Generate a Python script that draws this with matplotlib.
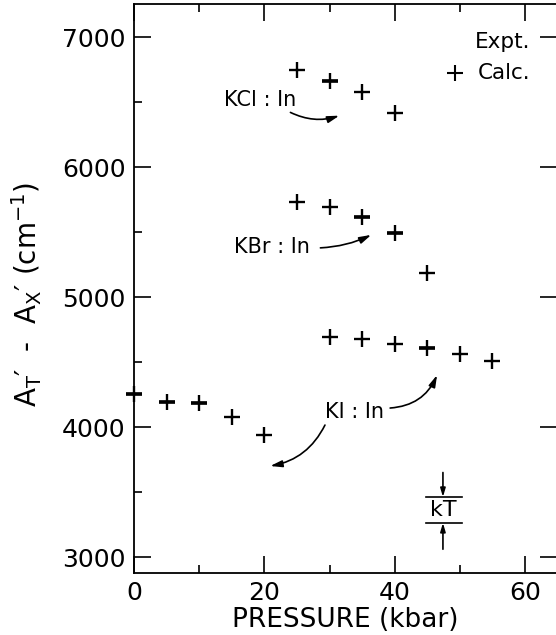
import matplotlib
matplotlib.use("Agg")
import matplotlib.pyplot as plt
from matplotlib.patches import FancyArrowPatch
from matplotlib.ticker import MultipleLocator

# Calculated values (+)
kcl_p = [25, 30, 35, 40]
kcl_v = [6746, 6662, 6580, 6415]
kbr_p = [25, 30, 35, 40, 45]
kbr_v = [5730, 5690, 5615, 5490, 5185]
ki_p = [0, 5, 10, 15, 20, 30, 35, 40, 45, 50, 55]
ki_v = [4255, 4195, 4185, 4080, 3940, 4695, 4680, 4640, 4605, 4560, 4510]

# Experimental values (—), coinciding with calculated points
expt_p = [30, 35, 40, 0, 5, 10, 45]
expt_v = [6662, 5615, 5490, 4255, 4195, 4185, 4605]

xticks = [0, 20, 40, 60]
yticks = [3000, 4000, 5000, 6000, 7000]

plt.rcParams['font.family'] = ['DejaVu Sans']
plt.rcParams['mathtext.fontset'] = 'dejavusans'

fig = plt.figure(figsize=(5.56, 6.35), dpi=100)
ax = fig.add_axes([134/556, 1 - 573/635, (557 - 134)/556, (573 - 4)/635])

ax.set_xlim(0, 64.9)
ax.set_ylim(2877, 7254)

for p, v in [(kcl_p, kcl_v), (kbr_p, kbr_v), (ki_p, ki_v)]:
    ax.plot(p, v, linestyle='none', marker='+', markersize=11.5,
            markeredgewidth=1.7, color='black', clip_on=False, zorder=3)
ax.plot(expt_p, expt_v, linestyle='none', marker='_', markersize=11.5,
        markeredgewidth=2.6, color='black', clip_on=False, zorder=3)

# ticks
ax.set_xticks(xticks)
ax.set_yticks(yticks)
ax.xaxis.set_minor_locator(MultipleLocator(10))
ax.yaxis.set_minor_locator(MultipleLocator(500))
ax.tick_params(axis='both', which='major', direction='in', length=12, width=1.2,
               labelsize=18, top=True, right=True, pad=6)
ax.tick_params(axis='both', which='minor', direction='in', length=6, width=1.2,
               top=True, right=False)
for s in ax.spines.values():
    s.set_linewidth(1.3)

ax.set_xlabel('PRESSURE (kbar)', fontsize=19, labelpad=1)
ax.set_ylabel(r"A$_\mathrm{T}$′  -  A$_\mathrm{X}$′ (cm$^{-1}$)", fontsize=20)
ax.yaxis.set_label_coords(-0.213, 0.49)

# legend text
ax.text(60.8, 6962, 'Expt.', fontsize=15.5, ha='right', va='center')
ax.text(60.8, 6723, 'Calc.', fontsize=15.5, ha='right', va='center')
ax.plot([49.3], [6723], marker='+', markersize=11, markeredgewidth=1.5,
        color='black', linestyle='none')

# labels with arrows
ax.text(19.3, 6515, 'KCl : In', fontsize=15, ha='center', va='center')
ax.text(21.1, 5385, 'KBr : In', fontsize=15, ha='center', va='center')
ax.text(33.8, 4115, 'KI : In', fontsize=15, ha='center', va='center')

def arrow(start, end, rad):
    a = FancyArrowPatch(start, end, connectionstyle=f"arc3,rad={rad}",
                        arrowstyle='-|>,head_length=7,head_width=2.0',
                        color='black', linewidth=1.2, shrinkA=0, shrinkB=0)
    ax.add_patch(a)

arrow((24.0, 6420), (31.5, 6395), 0.2)
arrow((28.6, 5378), (36.4, 5478), 0.1)
arrow((29.3, 4015), (20.9, 3700), -0.25)
arrow((39.3, 4146), (46.5, 4400), 0.3)

# kT bar
ax.plot([44.8, 50.3], [3462, 3462], color='black', linewidth=1.2)
ax.plot([44.8, 50.3], [3262, 3262], color='black', linewidth=1.2)
ax.annotate('', xy=(47.4, 3462), xytext=(47.4, 3650),
            arrowprops=dict(arrowstyle='-|>,head_length=0.5,head_width=0.15',
                            color='black', linewidth=1.2, shrinkA=0, shrinkB=0))
ax.annotate('', xy=(47.4, 3262), xytext=(47.4, 3060),
            arrowprops=dict(arrowstyle='-|>,head_length=0.5,head_width=0.15',
                            color='black', linewidth=1.2, shrinkA=0, shrinkB=0))
ax.text(47.5, 3365, 'kT', fontsize=16, ha='center', va='center')

fig.savefig('out.png', dpi=100)
